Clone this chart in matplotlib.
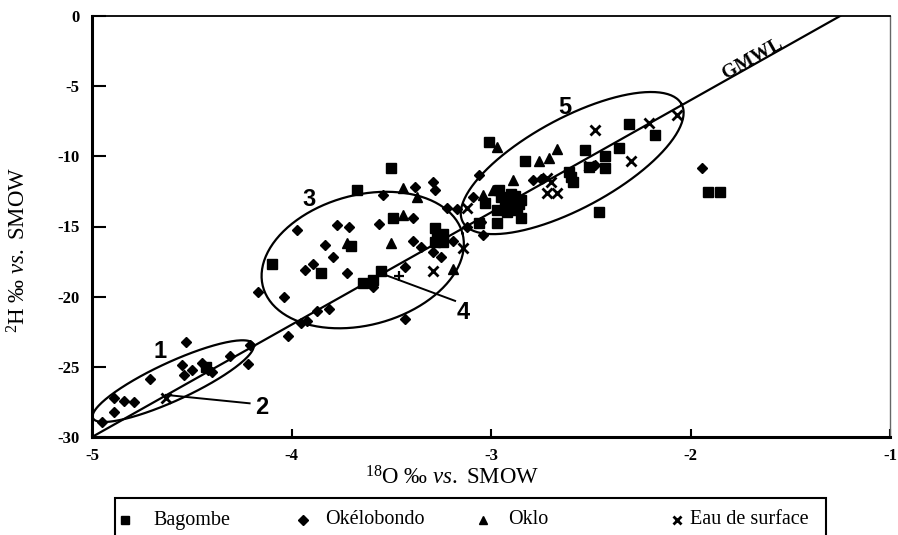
import matplotlib
matplotlib.use("Agg")
import matplotlib.pyplot as plt
import numpy as np
from matplotlib.lines import Line2D
from matplotlib.patches import Rectangle

plt.rcParams['mathtext.fontset'] = 'custom'
plt.rcParams['mathtext.rm'] = 'Liberation Serif'
plt.rcParams['mathtext.it'] = 'Liberation Serif:italic'

# data (d18O, d2H) per group
bag_x = [-3.50, -3.67, -3.28, -3.24, -3.28, -3.24, -3.27, -3.49, -3.70, -4.10, -3.85, -3.55,
         -3.64, -3.59, -3.01, -3.06, -3.03, -2.83, -2.53, -2.51, -2.61, -2.60, -2.59, -2.96,
         -2.92, -2.90, -2.87, -2.97, -2.85, -2.93, -2.88, -2.95, -2.90, -2.88, -2.92, -2.86,
         -2.85, -2.97, -2.46, -2.31, -2.18, -2.36, -2.43, -2.43, -1.91, -1.85, -4.43]
bag_y = [-10.8, -12.4, -15.1, -15.5, -16.1, -16.1, -15.6, -14.4, -16.4, -17.7, -18.3, -18.2,
         -19.0, -18.8, -9.0, -14.75, -13.3, -10.35, -9.55, -10.75, -11.1, -11.5, -11.8, -12.4,
         -13.0, -13.5, -13.8, -13.8, -13.1, -13.3, -12.8, -12.9, -12.7, -13.6, -14.0, -13.4,
         -14.4, -14.75, -14.0, -7.7, -8.5, -9.4, -10.0, -10.85, -12.55, -12.55, -25.0]

oke_x = [-3.54, -3.38, -3.29, -3.28, -3.22, -3.17, -3.97, -3.77, -3.71, -3.39, -3.56, -3.83,
         -3.39, -3.35, -3.79, -3.29, -3.25, -3.89, -3.93, -3.72, -3.59, -3.43, -3.43, -4.17,
         -4.04, -3.87, -3.81, -3.95, -3.92, -4.02, -3.19, -3.12, -3.04, -3.09, -3.06, -2.79,
         -2.75, -2.48, -1.94, -3.05,
         -4.53, -4.31, -4.22, -4.21, -4.55, -4.54, -4.50, -4.45, -4.42, -4.40, -4.71, -4.89,
         -4.84, -4.79, -4.89, -4.95]
oke_y = [-12.75, -12.2, -11.8, -12.4, -13.7, -13.75, -15.25, -14.9, -15.0, -14.4, -14.8, -16.3,
         -16.0, -16.45, -17.2, -16.8, -17.2, -17.7, -18.1, -18.3, -19.3, -17.9, -21.6, -19.7,
         -20.0, -21.0, -20.9, -21.9, -21.7, -22.8, -16.0, -15.0, -15.6, -12.9, -11.3, -11.7,
         -11.6, -10.6, -10.8, -14.7,
         -23.2, -24.2, -24.8, -23.45, -24.9, -25.6, -25.2, -24.7, -25.2, -25.4, -25.9, -27.2,
         -27.4, -27.5, -28.2, -28.9]

okl_x = [-3.44, -3.37, -3.44, -3.72, -3.50, -3.19, -2.97, -2.67, -2.71, -2.76, -2.89, -2.99, -3.04]
okl_y = [-12.25, -12.9, -14.2, -16.2, -16.2, -18.0, -9.3, -9.45, -10.1, -10.3, -11.7, -12.4, -12.75]

eau_x = [-4.63, -3.29, -3.14, -3.12, -2.48, -2.21, -2.07, -2.30, -2.72, -2.67, -2.72, -2.70, -2.51]
eau_y = [-27.2, -18.2, -16.5, -13.7, -8.15, -7.65, -7.05, -10.35, -12.6, -12.6, -11.55, -11.8, -10.7]

plus_x = [-3.46]
plus_y = [-18.5]

# ellipses: centre, half-axis vectors (data units)
ell_c = [(-4.593, -26.02), (-3.643, -17.39), (-2.593, -10.48)]
ell_a = [(0.402, 2.637), (0.500, 1.903), (0.548, 4.205)]
ell_b = [(0.040, -1.233), (0.084, -4.476), (0.108, -2.822)]

fig = plt.figure(figsize=(8.98, 5.35), dpi=100)
ax = fig.add_axes([92/898, 1-437/535, 798/898, 421/535])

# GMWL: d2H = 8 d18O + 10
gx = np.array([-5, -1.25])
ax.plot(gx, 8*gx + 10, 'k', lw=1.6)

ms = 6.5
ax.plot(bag_x, bag_y, 's', color='k', ms=ms, ls='none')
ax.plot(oke_x, oke_y, 'D', color='k', ms=ms-1, ls='none')
ax.plot(okl_x, okl_y, '^', color='k', ms=ms+0.5, ls='none')
ax.plot(eau_x, eau_y, 'x', color='k', ms=ms, mew=2, ls='none')
ax.plot(plus_x, plus_y, '+', color='k', ms=ms, mew=1.6, ls='none')

t = np.linspace(0, 2*np.pi, 200)
for c, a, b in zip(ell_c, ell_a, ell_b):
    ex = c[0] + a[0]*np.cos(t) + b[0]*np.sin(t)
    ey = c[1] + a[1]*np.cos(t) + b[1]*np.sin(t)
    ax.plot(ex, ey, 'k', lw=1.6)

# leader lines
ax.plot([-4.63, -4.21], [-27.0, -27.6], 'k', lw=1.4)
ax.plot([-3.54, -3.18], [-18.4, -20.3], 'k', lw=1.4)

lab = dict(fontsize=17, fontweight='bold', family='Liberation Sans', ha='center', va='center')
ax.text(-4.66, -23.9, '1', **lab)
ax.text(-4.15, -27.9, '2', **lab)
ax.text(-3.91, -13.1, '3', **lab)
ax.text(-3.14, -21.1, '4', **lab)
ax.text(-2.63, -6.5, '5', **lab)
ax.text(-1.69, -3.05, 'GMWL', fontsize=14, family='Liberation Serif', fontweight='bold',
        rotation=29.4, ha='center', va='center')

ax.set_xlim(-5, -1)
ax.set_ylim(-30, 0)
ax.set_xticks([-5, -4, -3, -2, -1])
ax.set_yticks([-30, -25, -20, -15, -10, -5, 0])
ax.set_xticklabels(['-5', '-4', '-3', '-2', '-1'])
ax.set_yticklabels(['-30', '-25', '-20', '-15', '-10', '-5', '0'])
for lb in ax.get_xticklabels() + ax.get_yticklabels():
    lb.set_family('Liberation Serif')
    lb.set_fontweight('bold')
    lb.set_fontsize(12)
ax.tick_params(axis='y', direction='in', length=10, width=1.5, pad=9)
ax.tick_params(axis='x', direction='in', length=6, width=1.5, pad=8)
ax.spines['left'].set_lw(2.2)
ax.spines['bottom'].set_lw(2.2)
ax.spines['top'].set_lw(1.3)
ax.spines['right'].set_lw(1.0)
ax.spines['right'].set_color('0.4')

fig.text(452/898, 1-478/535, r'$^{18}$O $\it{‰\ vs.}$ SMOW', fontsize=16.5,
         family='Liberation Serif', ha='center', va='center')
fig.text(19/898, 1-250/535, r'$^{2}$H $\it{‰\ vs.}$ SMOW', fontsize=16.5,
         family='Liberation Serif', ha='center', va='center', rotation=90)

# legend box, cut by the bottom edge
fig.patches.append(Rectangle((115/898, -0.05), 711/898, 0.05 + 37/535,
                             transform=fig.transFigure, fill=False, ec='k', lw=1.5))
leg_names = ['Bagombe', 'Okélobondo', 'Oklo', 'Eau de surface']
leg_marks = ['s', 'D', '^', 'x']
leg_mx = [125, 303, 483, 677]
leg_tx = [153, 325, 508, 690]
for nm, mk, mx, tx in zip(leg_names, leg_marks, leg_mx, leg_tx):
    fig.lines.append(Line2D([mx/898], [1-520/535], marker=mk, color='k', ms=6 if mk != 'D' else 5,
                            mew=2 if mk == 'x' else 1, ls='none', transform=fig.transFigure))
    fig.text(tx/898, 1-520/535, nm, fontsize=14.5, family='Liberation Serif', va='center')

fig.savefig('out.png', dpi=100)
